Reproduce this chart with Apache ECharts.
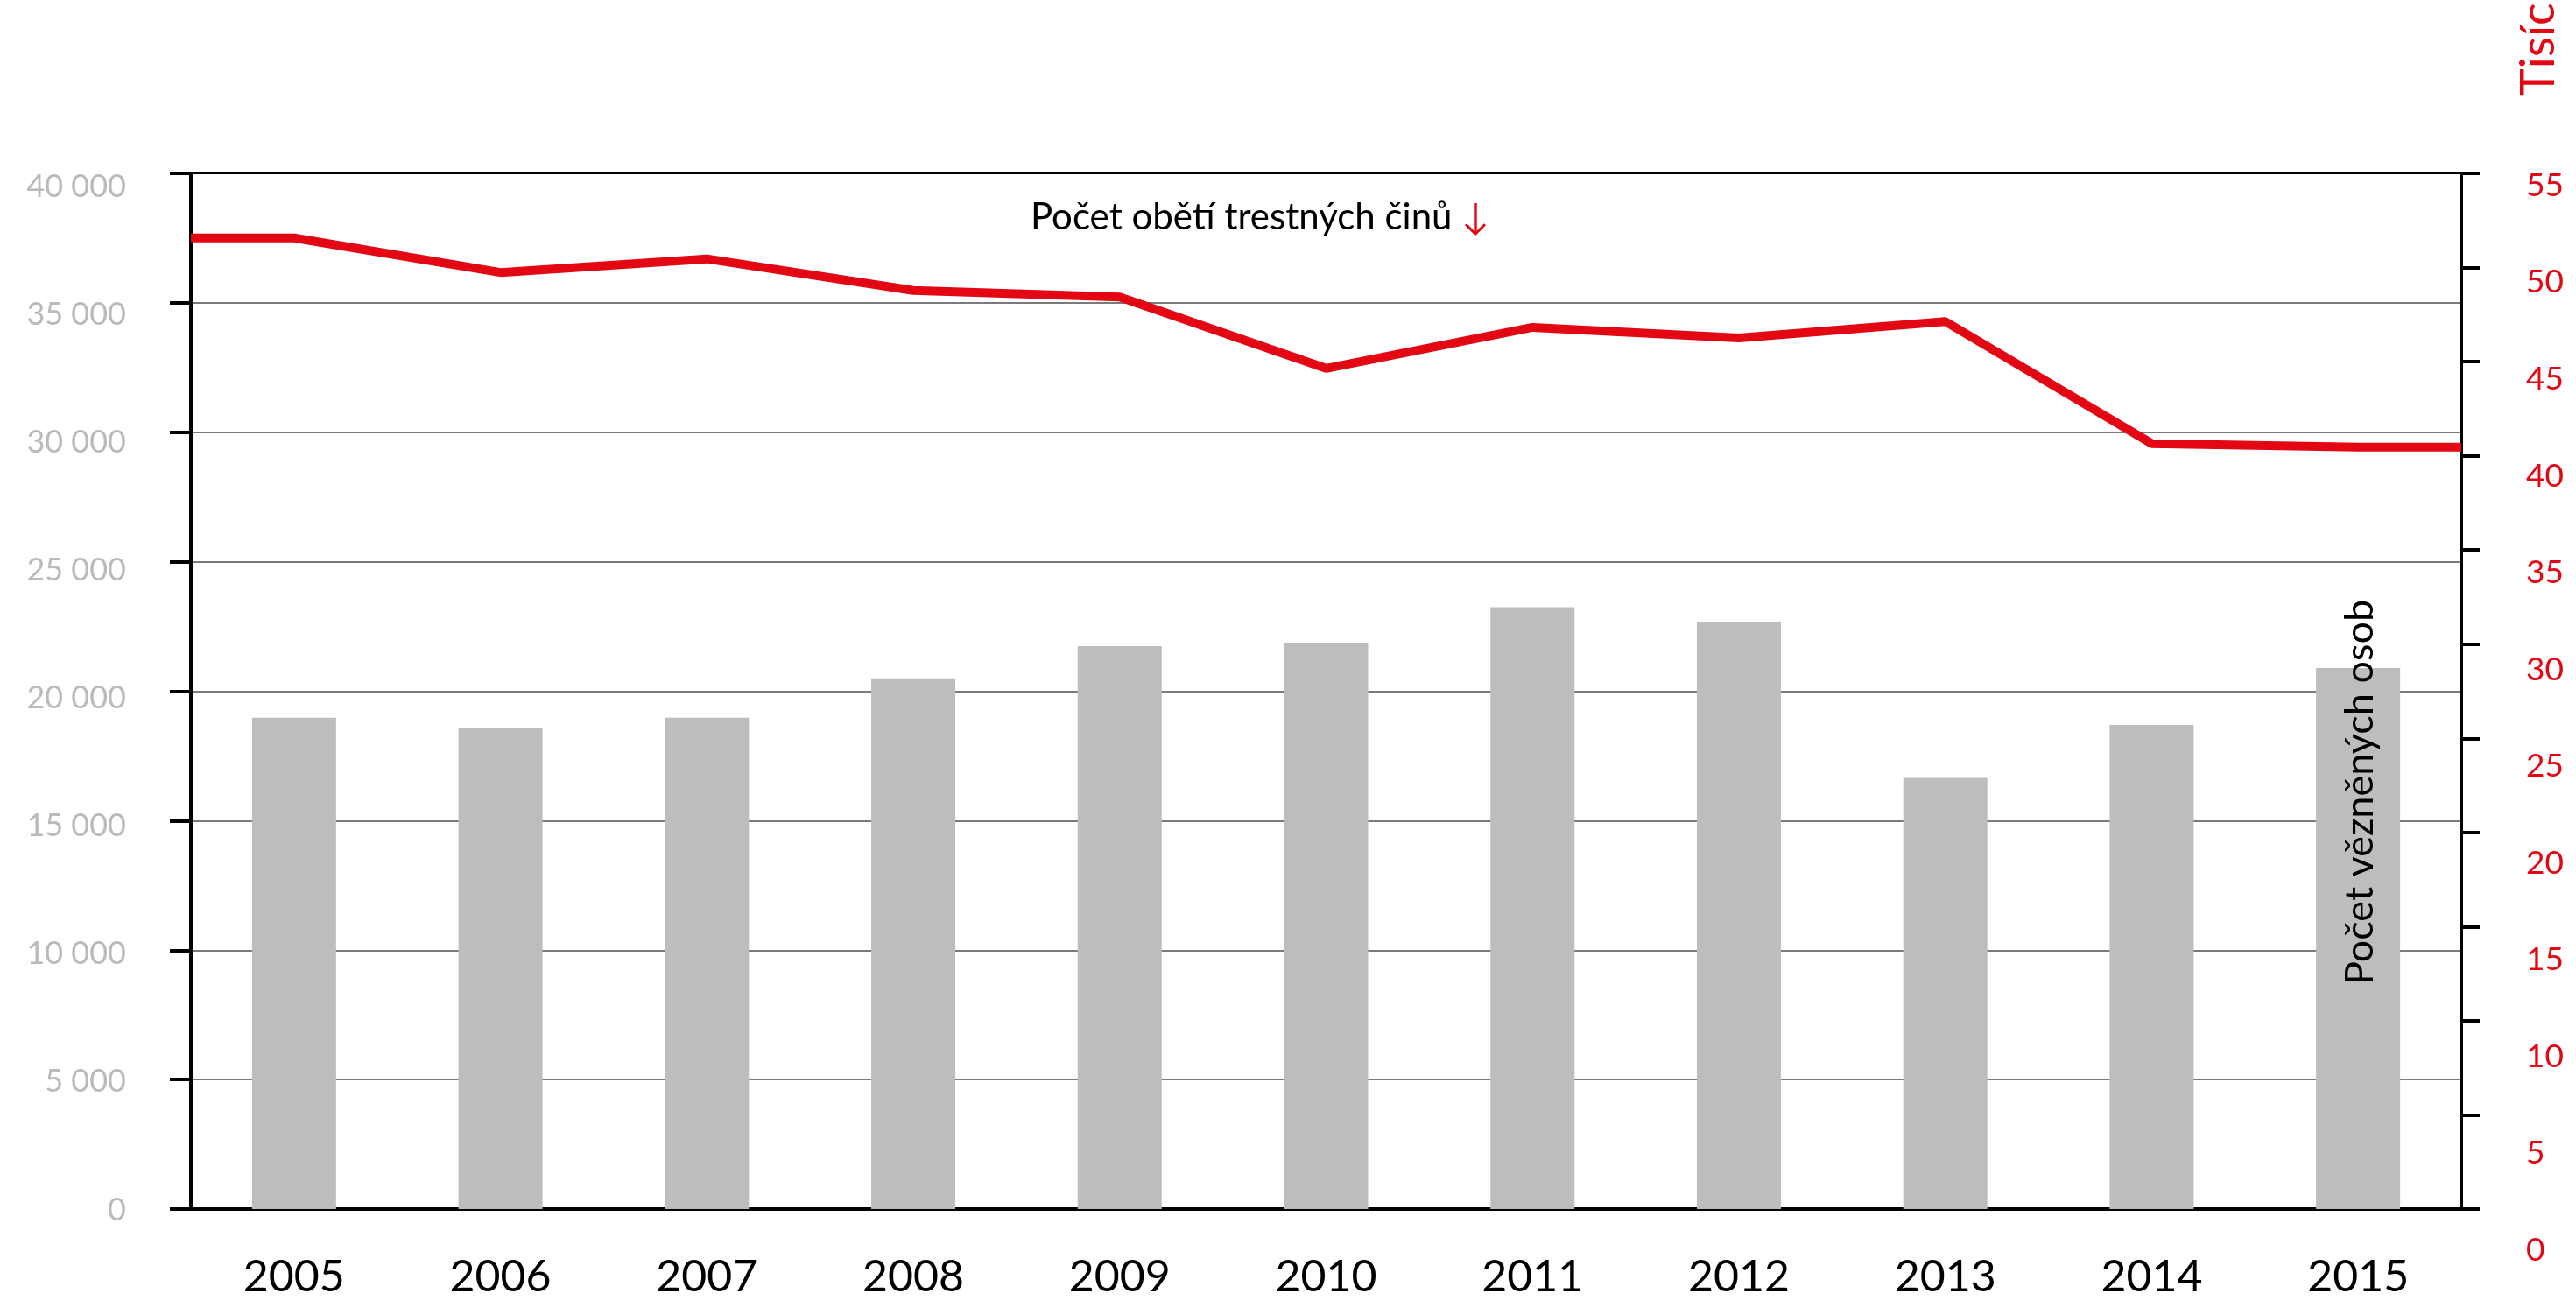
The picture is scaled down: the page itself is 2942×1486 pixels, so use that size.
<!DOCTYPE html>
<html>
<head>
<meta charset="utf-8">
<title>Počet vězněných osob a obětí trestných činů</title>
<script src="https://cdn.jsdelivr.net/npm/echarts@6.0.0/dist/echarts.min.js"></script>
<style>
    html, body {margin: 0; padding: 0; background: #fff;}
    #main {width: 2942px; height: 1486px;}
</style>
</head>
<body>
<div id="main"></div>
<script>
// roky na ose x
var years = ['2005', '2006', '2007', '2008', '2009', '2010', '2011', '2012', '2013', '2014', '2015'];
// počet vězněných osob (levá osa)
var prisoners = [18980, 18560, 18980, 20500, 21740, 21870, 23250, 22690, 16650, 18700, 20900];
// počet obětí trestných činů v tisících (pravá osa)
var victims = [51.57, 49.74, 50.46, 48.78, 48.43, 44.64, 46.82, 46.26, 47.13, 40.65, 40.46];

var RED = '#e30613';
var FONT = 'Lato';

// čára začíná u levé osy a končí u pravé osy
var lineData = [[-0.5, victims[0]]];
for (var i = 0; i < victims.length; i++) {
    lineData.push([i, victims[i]]);
}
lineData.push([years.length - 0.5, victims[victims.length - 1]]);

function spaced(v) {
    return String(v).replace(/\B(?=(\d{3})+(?!\d))/g, ' ');
}

var gridColors = ['#7a7a7a', '#7a7a7a', '#7a7a7a', '#7a7a7a', '#7a7a7a', '#7a7a7a', '#7a7a7a', '#7a7a7a', '#000'];

var myChart = echarts.init(document.getElementById('main'));
myChart.setOption({
    animation: false,
    backgroundColor: '#fff',
    grid: [
        // hlavní plocha grafu
        {left: 218, right: 131, top: 198, bottom: 105},
        // popisky levé osy (v originále mírně posunuté)
        {left: 218, right: 131, top: 213, bottom: 104},
        // popisky pravé osy
        {left: 218, right: 131, top: 212, bottom: 58}
    ],
    xAxis: [
        {
            type: 'category',
            gridIndex: 0,
            data: years,
            axisLine: {lineStyle: {color: '#000', width: 4}},
            axisTick: {show: false},
            axisLabel: {color: '#000', fontSize: 50, fontFamily: FONT, margin: 53}
        },
        {
            type: 'value',
            gridIndex: 0,
            min: -0.5,
            max: years.length - 0.5,
            show: false
        },
        {type: 'value', gridIndex: 1, show: false},
        {type: 'value', gridIndex: 2, show: false}
    ],
    yAxis: [
        {
            type: 'value',
            gridIndex: 0,
            position: 'left',
            min: 0,
            max: 40000,
            interval: 5000,
            axisLine: {show: true, onZero: false, lineStyle: {color: '#000', width: 4}},
            axisTick: {show: true, length: 24, lineStyle: {color: '#000', width: 4}},
            axisLabel: {show: false},
            splitLine: {show: true, lineStyle: {color: gridColors, width: 2}}
        },
        {
            type: 'value',
            gridIndex: 0,
            position: 'right',
            min: 0,
            max: 55,
            interval: 5,
            axisLine: {show: true, onZero: false, lineStyle: {color: '#000', width: 4}},
            axisTick: {show: true, length: 21, lineStyle: {color: '#000', width: 4}},
            axisLabel: {show: false},
            splitLine: {show: false}
        },
        {
            type: 'value',
            gridIndex: 1,
            position: 'left',
            min: 0,
            max: 40000,
            interval: 5000,
            axisLine: {show: false, onZero: false},
            axisTick: {show: false},
            splitLine: {show: false},
            axisLabel: {
                color: '#bababa',
                fontSize: 36,
                fontFamily: FONT,
                margin: 74,
                formatter: spaced
            }
        },
        {
            type: 'value',
            gridIndex: 2,
            position: 'right',
            min: 0,
            max: 55,
            interval: 5,
            axisLine: {show: false, onZero: false},
            axisTick: {show: false},
            splitLine: {show: false},
            axisLabel: {color: RED, fontSize: 37, fontFamily: FONT, margin: 74}
        }
    ],
    graphic: [
        {
            type: 'text',
            x: 1177,
            y: 248,
            z: 100,
            style: {
                text: 'Počet obětí trestných činů {a|↓}',
                fill: '#000',
                font: '42px ' + FONT,
                verticalAlign: 'middle',
                rich: {a: {fill: RED, fontSize: 42, fontFamily: FONT}}
            }
        },
        {
            type: 'text',
            x: 2695,
            y: 905,
            z: 100,
            rotation: Math.PI / 2,
            style: {
                text: 'Počet vězněných osob',
                fill: '#000',
                font: '45px ' + FONT,
                align: 'center',
                verticalAlign: 'middle'
            }
        },
        {
            type: 'text',
            x: 2900,
            y: 110,
            z: 100,
            rotation: Math.PI / 2,
            style: {
                text: 'Tisíc',
                fill: RED,
                font: '54px ' + FONT,
                align: 'left',
                verticalAlign: 'middle'
            }
        }
    ],
    series: [
        {
            name: 'Počet vězněných osob',
            type: 'bar',
            xAxisIndex: 0,
            yAxisIndex: 0,
            barWidth: 96,
            itemStyle: {color: '#bdbdbb'},
            data: prisoners,
            z: 2
        },
        {
            name: 'Počet obětí trestných činů',
            type: 'line',
            xAxisIndex: 1,
            yAxisIndex: 1,
            symbol: 'none',
            lineStyle: {color: RED, width: 10},
            data: lineData,
            z: 5
        }
    ]
});
</script>
</body>
</html>
